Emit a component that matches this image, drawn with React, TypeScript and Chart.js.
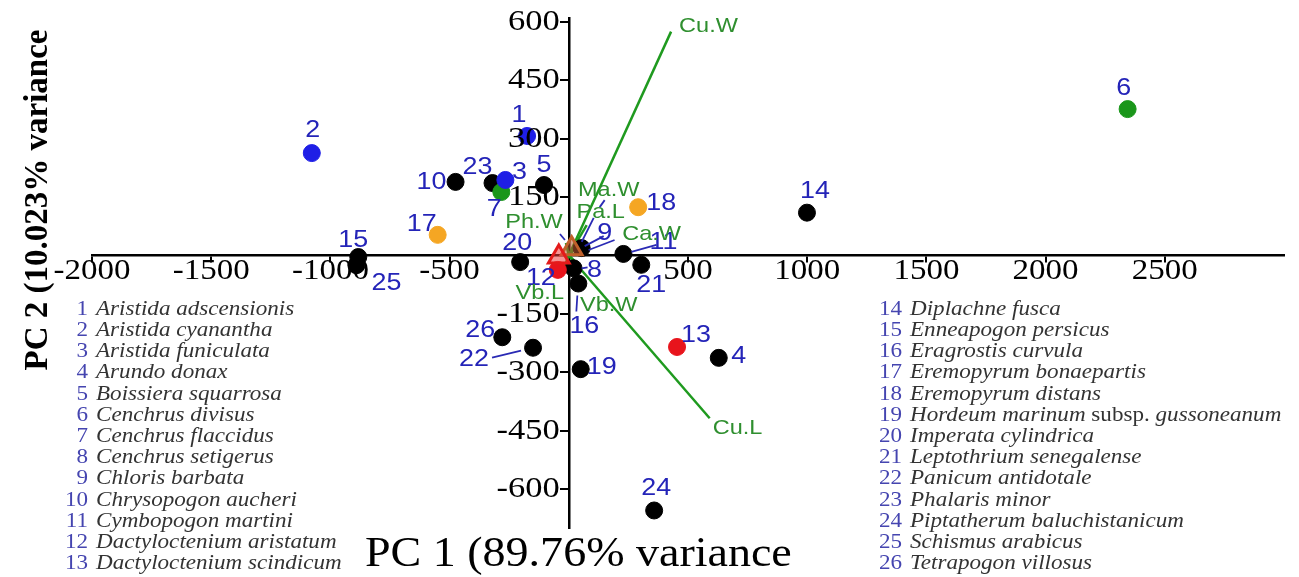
import { useEffect, useRef } from 'react';
import { Chart, registerables } from 'chart.js';

Chart.register(...registerables);

// ---------- data ----------
const speciesIds = [1, 2, 3, 4, 5, 6, 7, 8, 9, 10, 11, 12, 13, 14, 15, 16, 17, 18, 19, 20, 21, 22, 23, 24, 25, 26];
const speciesNames = [
  'Aristida adscensionis', 'Aristida cyanantha', 'Aristida funiculata', 'Arundo donax',
  'Boissiera squarrosa', 'Cenchrus divisus', 'Cenchrus flaccidus', 'Cenchrus setigerus',
  'Chloris barbata', 'Chrysopogon aucheri', 'Cymbopogon martini', 'Dactyloctenium aristatum',
  'Dactyloctenium scindicum', 'Diplachne fusca', 'Enneapogon persicus', 'Eragrostis curvula',
  'Eremopyrum bonaepartis', 'Eremopyrum distans', 'Hordeum marinum|subsp.|gussoneanum',
  'Imperata cylindrica', 'Leptothrium senegalense', 'Panicum antidotale', 'Phalaris minor',
  'Piptatherum baluchistanicum', 'Schismus arabicus', 'Tetrapogon villosus',
];
const pc1 = [-175, -1078, -266, 629, -104, 2344, -283, 20, 54, -475, 229, -46, 454, 999, -883, 40, -550, 291, 50, -204, 304, -150, -320, 358, -891, -279];
const pc2 = [307, 263, 194, -263, 181, 376, 163, -33, 19, 189, 4, -37, -235, 110, -4, -72, 53, 124, -292, -17, -24, -237, 186, -655, -25, -210];
const speciesGroup = ['blue', 'blue', 'blue', 'black', 'black', 'green', 'green', 'black', 'black', 'black', 'black', 'red', 'red', 'black', 'black', 'black', 'orange', 'orange', 'black', 'black', 'black', 'black', 'black', 'black', 'black', 'black'];

const loadingNames = ['Cu.W', 'Cu.L', 'Ma.W', 'Pa.L', 'Ph.W', 'Ca.W', 'Vb.L', 'Vb.W'];
const loadingPC1 = [429, 591, 75, 54, -12, 83, -21, 46];
const loadingPC2 = [575, -418, 78, 35, 32, 14, -32, -27];

const centroidPC1 = [-42, 12];
const centroidPC2 = [-4, 17];

const xTickValues = [-2000, -1500, -1000, -500, 500, 1000, 1500, 2000, 2500];
const yTickValues = [-600, -450, -300, -150, 150, 300, 450, 600];

const xTitle = 'PC 1 (89.76% variance';
const yTitle = 'PC 2 (10.023% variance';

// ---------- styles / label placement (pixels) ----------
const groupColors: Record<string, string> = {
  black: '#000000',
  blue: '#1f1fe6',
  green: '#1a961a',
  orange: '#f5a623',
  red: '#e8141c',
};
const labelDX = [-8, 1, 14, 20, 0, -4, -7, 21, 23, -24, 40, -17, 19, 8, -5, 6, -16, 23, 21, -3, 10, -59, -15, 2, 30, -22];
const labelDY = [-21, -23, -8, -1, -20, -21, 17, 2, -15, 0, -12, 8, -12, -21, -17, 43, -10, -4, -2, -19, 21, 12, -16, -22, 18, -7];
// connectors: [pointIndex, dx1, dy1, dx2, dy2]
const pointConnectors = [
  [8, 22, -12, 3, -2],
  [10, 33, -9, 8, -2],
  [21, -41, 10, -12, 3],
  [15, -2, 28, -1, 12],
  [7, 8, 0, 14, -1],
];
// loading labels: [dx, dy, align]
const loadingLabelPos: [number, number, CanvasTextAlign][] = [
  [8, -5, 'left'], [3, 10, 'left'], [22, -35, 'center'], [19, -30, 'center'],
  [-32, -21, 'center'], [63, -16, 'center'], [-24, 25, 'center'], [29, 39, 'center'],
];
const loadingConnectors = [
  [2, 18, -25, 13, -18],
  [3, 12, -24, 0, 0],
  [4, -6, -9, -1, -3],
  [5, 26, -10, 0, 0],
];

const SERIF = '"Liberation Serif", "Times New Roman", serif';
const SANS = '"Liberation Sans", Arial, sans-serif';

function drawText(ctx: CanvasRenderingContext2D, text: string, x: number, y: number, align: CanvasTextAlign, sx: number) {
  ctx.save();
  ctx.translate(x, y);
  ctx.scale(sx, 1);
  ctx.textAlign = align;
  ctx.fillText(text, 0, 0);
  ctx.restore();
}

const annotate = {
  id: 'annotate',
  afterDatasetsDraw(chart: any) {
    const { ctx } = chart;
    const xs = chart.scales.x;
    const ys = chart.scales.y;
    ctx.save();
    ctx.strokeStyle = '#2a2ab4';
    ctx.lineWidth = 1.8;
    for (const [i, dx1, dy1, dx2, dy2] of pointConnectors) {
      const px = xs.getPixelForValue(pc1[i]);
      const py = ys.getPixelForValue(pc2[i]);
      ctx.beginPath();
      ctx.moveTo(px + dx1, py + dy1);
      ctx.lineTo(px + dx2, py + dy2);
      ctx.stroke();
    }
    for (const [i, dx1, dy1, dx2, dy2] of loadingConnectors) {
      const px = xs.getPixelForValue(loadingPC1[i]);
      const py = ys.getPixelForValue(loadingPC2[i]);
      ctx.beginPath();
      ctx.moveTo(px + dx1, py + dy1);
      ctx.lineTo(px + dx2, py + dy2);
      ctx.stroke();
    }
    ctx.font = '24px ' + SANS;
    ctx.fillStyle = '#2424b8';
    ctx.textBaseline = 'middle';
    speciesIds.forEach((id, i) => {
      const px = xs.getPixelForValue(pc1[i]);
      const py = ys.getPixelForValue(pc2[i]);
      drawText(ctx, String(id), px + labelDX[i], py + labelDY[i], 'center', 1.12);
    });
    ctx.font = '21px ' + SANS;
    ctx.fillStyle = '#2f8f2f';
    loadingNames.forEach((name, i) => {
      const px = xs.getPixelForValue(loadingPC1[i]);
      const py = ys.getPixelForValue(loadingPC2[i]);
      const [dx, dy, al] = loadingLabelPos[i];
      drawText(ctx, name, px + dx, py + dy, al, 1.12);
    });
    ctx.restore();
  },
  afterDraw(chart: any) {
    const { ctx } = chart;
    const xs = chart.scales.x;
    const ys = chart.scales.y;
    const axisY = ys.getPixelForValue(0);
    const axisX = xs.getPixelForValue(0);
    ctx.save();
    ctx.fillStyle = '#000';
    ctx.font = '30px ' + SERIF;
    ctx.textBaseline = 'middle';
    xs.ticks.forEach((t: any) => {
      drawText(ctx, String(t.value), xs.getPixelForValue(t.value), axisY + 16, 'center', 1.1);
    });
    ys.ticks.forEach((t: any) => {
      drawText(ctx, String(t.value), axisX - 9, ys.getPixelForValue(t.value), 'right', 1.15);
    });
    // axis titles
    ctx.font = '43px ' + SERIF;
    drawText(ctx, xTitle, 365, 555, 'left', 1.07);
    ctx.save();
    ctx.translate(38, 200);
    ctx.rotate(-Math.PI / 2);
    ctx.font = 'bold 33px ' + SERIF;
    ctx.textAlign = 'center';
    ctx.fillText(yTitle, 0, 0);
    ctx.restore();
    // species legend
    const rowH = 21.2;
    const sx = 1.05;
    speciesIds.forEach((id, i) => {
      const col = i < 13 ? 0 : 1;
      const r = col === 0 ? i : i - 13;
      const yy = 309 + r * rowH;
      const numX = col === 0 ? 88 : 902;
      const nameX = col === 0 ? 96 : 910;
      ctx.font = '22px ' + SERIF;
      ctx.fillStyle = '#4545b0';
      drawText(ctx, String(id), numX, yy, 'right', sx);
      ctx.fillStyle = '#333333';
      const parts = speciesNames[i].split('|');
      let cx = nameX;
      parts.forEach((p, k) => {
        const italic = k % 2 === 0;
        ctx.font = (italic ? 'italic ' : '') + '22px ' + SERIF;
        const txt = k < parts.length - 1 ? p + ' ' : p;
        drawText(ctx, txt, cx, yy, 'left', sx);
        cx += ctx.measureText(txt).width * sx;
      });
    });
    ctx.restore();
  },
};

export default function App() {
  const ref = useRef<HTMLCanvasElement | null>(null);
  useEffect(() => {
    if (!ref.current) return;
    const groups = ['blue', 'green', 'orange', 'red', 'black'];
    const pointSets = groups.map((g) => ({
      label: g,
      data: speciesIds.map((_, i) => i).filter((i) => speciesGroup[i] === g).map((i) => ({ x: pc1[i], y: pc2[i] })),
      backgroundColor: groupColors[g],
      borderColor: groupColors[g],
      pointRadius: 8.5,
      pointHoverRadius: 8.5,
      showLine: false,
    }));
    const loadingSets = loadingNames.map((name, i) => ({
      label: name,
      data: [{ x: 0, y: 0 }, { x: loadingPC1[i], y: loadingPC2[i] }],
      borderColor: '#1f9a1f',
      borderWidth: 2.5,
      pointRadius: 0,
      showLine: true,
      fill: false,
    }));
    const centroidSets = centroidPC1.map((v, i) => ({
      label: 'centroid' + i,
      data: [{ x: v, y: centroidPC2[i] }],
      pointStyle: 'triangle',
      pointRadius: 12,
      backgroundColor: i === 0 ? 'rgba(240,60,60,0.55)' : 'rgba(190,90,50,0.55)',
      borderColor: i === 0 ? '#e41a1a' : '#c0602a',
      borderWidth: 3,
      showLine: false,
    }));
    const chart = new Chart(ref.current, {
      type: 'scatter',
      data: { datasets: [...centroidSets, ...pointSets, ...loadingSets] as any },
      options: {
        animation: false,
        responsive: true,
        maintainAspectRatio: false,
        layout: { padding: { left: 92, right: 6, top: 18, bottom: 49 } },
        plugins: { legend: { display: false }, tooltip: { enabled: false } },
        scales: {
          x: {
            type: 'linear',
            min: -2000,
            max: 3000,
            position: { y: 0 } as any,
            afterBuildTicks: (s: any) => { s.ticks = xTickValues.map((v) => ({ value: v })); },
            grid: { drawOnChartArea: false, drawTicks: true, tickLength: 6, color: '#000', lineWidth: 2 },
            border: { display: true, color: '#000', width: 2.5 },
            ticks: { display: false },
          },
          y: {
            type: 'linear',
            min: -700,
            max: 610,
            position: { x: 0 } as any,
            afterBuildTicks: (s: any) => { s.ticks = yTickValues.map((v) => ({ value: v })); },
            grid: { drawOnChartArea: false, drawTicks: true, tickLength: 8, color: '#000', lineWidth: 2 },
            border: { display: true, color: '#000', width: 2.5 },
            ticks: { display: false },
          },
        },
      },
      plugins: [annotate],
    });
    return () => chart.destroy();
  }, []);
  return (
    <div style={{ position: 'fixed', left: 0, top: 0, width: 1299, height: 577, background: '#fff' }}>
      <canvas ref={ref} />
    </div>
  );
}
